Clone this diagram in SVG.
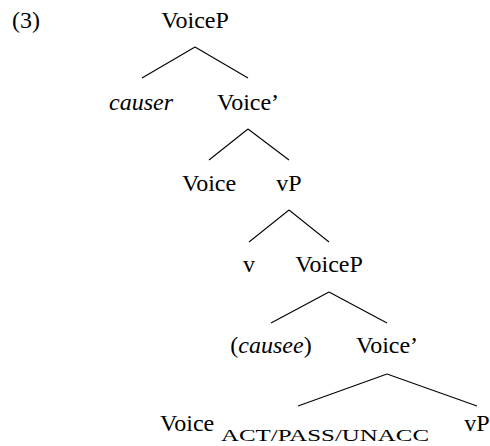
<svg xmlns="http://www.w3.org/2000/svg" width="490" height="446" viewBox="0 0 490 446">
<style>
text{font-family:"Liberation Serif","Times New Roman",serif;font-size:24px;fill:#000}
.c{text-anchor:middle}
.i{font-style:italic}
.sub{font-size:17px}
#edges line{stroke:#000;stroke-width:1.1}
</style>
<rect width="490" height="446" fill="#fff"/>
<text id="label" x="12" y="28">(3)</text>
<g id="edges">
<line x1="195" y1="47" x2="142" y2="78"/>
<line x1="195" y1="47" x2="248" y2="78"/>
<line x1="248" y1="129" x2="209" y2="160"/>
<line x1="248" y1="129" x2="289" y2="160"/>
<line x1="289" y1="210" x2="249" y2="242"/>
<line x1="289" y1="210" x2="329" y2="242"/>
<line x1="329" y1="292" x2="271" y2="323"/>
<line x1="329" y1="292" x2="387" y2="323"/>
<line x1="387" y1="374" x2="298" y2="406"/>
<line x1="387" y1="374" x2="477" y2="406"/>
</g>
<g id="n1"><text class="c" x="195" y="28">VoiceP</text></g>
<g id="n2"><text class="c i" x="141" y="110">causer</text></g>
<g id="n3"><text class="c" x="248" y="110">Voice’</text></g>
<g id="n4"><text class="c" x="209" y="191">Voice</text></g>
<g id="n5"><text class="c" x="289" y="191">vP</text></g>
<g id="n6"><text class="c" x="249" y="272">v</text></g>
<g id="n7"><text class="c" x="329" y="272">VoiceP</text></g>
<g id="n8"><text class="c" x="271" y="353">(<tspan class="i">causee</tspan>)</text></g>
<g id="n9"><text class="c" x="387" y="353">Voice’</text></g>
<g id="n10"><text x="160" y="431">Voice</text><text class="sub" x="221" y="441" textLength="208" lengthAdjust="spacingAndGlyphs">ACT/PASS/UNACC</text></g>
<g id="n11"><text class="c" x="477" y="431">vP</text></g>
</svg>
